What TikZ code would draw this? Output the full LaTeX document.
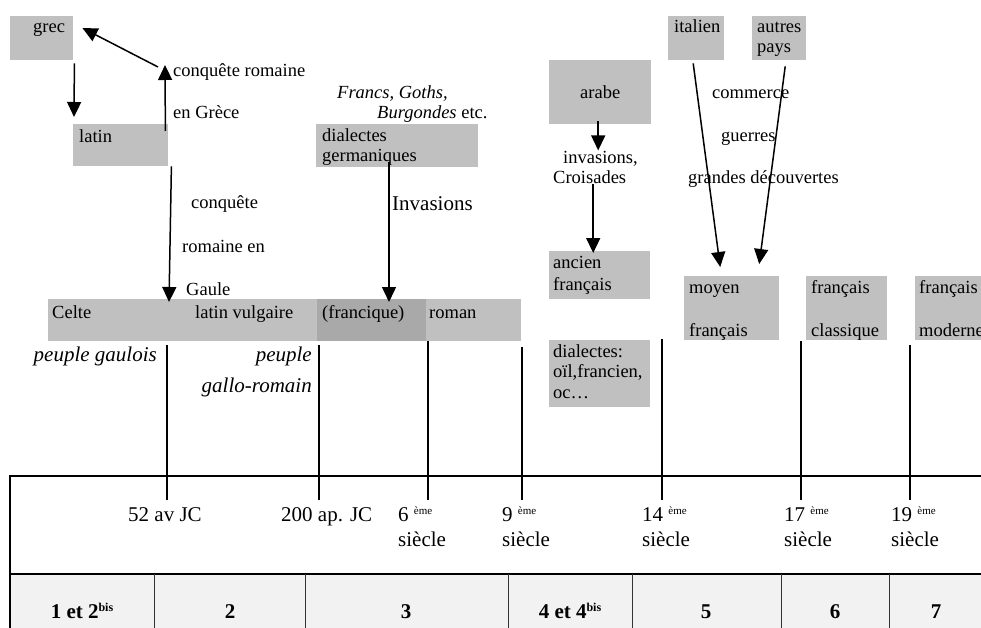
\documentclass[tikz,border=0pt]{standalone}
\usepackage{fontspec}
\setmainfont{Liberation Serif}
\usepackage{tikz}
\usetikzlibrary{arrows.meta}

\definecolor{boxgray}{HTML}{C0C0C0}
\definecolor{boxdark}{HTML}{A9A9A9}
\definecolor{rowgray}{HTML}{F2F2F2}

\newcommand{\emeup}{\raisebox{7pt}{\fontsize{11}{11}\selectfont ème}}
\newcommand{\bisup}{\raisebox{7pt}{\fontsize{12}{12}\selectfont bis}}

\begin{document}
\begin{tikzpicture}[x=1pt,y=-1pt,
  langbox/.style={rectangle,fill=boxgray,inner sep=0pt,anchor=north west},
  txt/.style={inner sep=0pt,anchor=base west,align=left,font=\fontsize{18.5}{20.5}\selectfont},
  bigtxt/.style={inner sep=0pt,anchor=base west,align=left,font=\fontsize{21}{25}\selectfont},
  coltxt/.style={inner sep=0pt,anchor=base,font=\fontsize{21}{25}\selectfont\bfseries},
  arr/.style={line width=1.5pt,-{Triangle[length=15pt,width=14pt]}},
  tick/.style={line width=1.5pt}
  ]
\useasboundingbox (0,0) rectangle (981,628);

% Table
\fill[rowgray] (10,574) rectangle (981,628);
\draw[line width=1.2pt] (10,628) -- (10,476) -- (981,476);
\draw[line width=1.2pt] (10,574) -- (981,574);
\foreach \x in {154,305,508,632,781,889}
  \draw[line width=0.8pt,black!80] (\x,574) -- (\x,628);

% Boxes
\node[langbox,minimum width=63pt,minimum height=44pt] (grec) at (10,16) {};
\node[langbox,minimum width=95pt,minimum height=42pt] (latin) at (73,124) {};
\node[langbox,minimum width=162pt,minimum height=43pt] (germ) at (316,124) {};
\node[langbox,minimum width=120pt,minimum height=42pt] (celte) at (48,299) {};
\node[langbox,minimum width=149pt,minimum height=42pt] (vulg) at (168,299) {};
\node[langbox,fill=boxdark,minimum width=109pt,minimum height=42pt] (franc) at (317,299) {};
\node[langbox,minimum width=95pt,minimum height=42pt] (roman) at (426,299) {};
\node[langbox,minimum width=102pt,minimum height=64pt] (arabe) at (549,60) {};
\node[langbox,minimum width=56pt,minimum height=44pt] (italien) at (668,16) {};
\node[langbox,minimum width=54pt,minimum height=44pt] (autres) at (752,16) {};
\node[langbox,minimum width=101pt,minimum height=48pt] (ancien) at (549,251) {};
\node[langbox,minimum width=101pt,minimum height=67pt] (dial) at (549,340) {};
\node[langbox,minimum width=95pt,minimum height=64pt] (moyen) at (684,276) {};
\node[langbox,minimum width=81pt,minimum height=64pt] (classique) at (806,276) {};
\node[langbox,minimum width=70pt,minimum height=64pt] (moderne) at (915,276) {};

% Box texts (multi-line nodes sit on their last line)
\node[txt] (tGrec) at (33,33) {grec};
\node[txt] (tLatin) at (79,143) {latin};
\node[txt] (tGerm) at (322,162) {dialectes\\germaniques};
\node[txt] (tCelte) at (52,318) {Celte};
\node[txt] (tVulg) at (195,318) {latin vulgaire};
\node[txt] (tFranc) at (322,318) {(francique)};
\node[txt] (tRoman) at (429,318) {roman};
\node[txt] (tArabe) at (580,99) {arabe};
\node[txt] (tItalien) at (674,33) {italien};
\node[txt] (tAutres) at (757,53) {autres\\pays};
\node[txt,font=\fontsize{18.5}{22}\selectfont] (tAncien) at (553,290) {ancien\\français};
\node[txt] (tDial) at (553,398) {dialectes:\\oïl,francien,\\oc…};
\node[txt,font=\fontsize{18.5}{43}\selectfont] (tMoyen) at (689,336) {moyen\\français};
\node[txt,font=\fontsize{18.5}{43}\selectfont] (tClass) at (811,336) {français\\classique};
\node[txt,font=\fontsize{18.5}{43}\selectfont] (tModerne) at (919,336) {français\\moderne};

% Free labels
\node[txt] (tCqRom) at (173,77) {conquête romaine};
\node[txt] (tGrece) at (173,119) {en Grèce};
\node[txt] (tCqA) at (191,208) {conquête};
\node[txt] (tCqB) at (182,252) {romaine en};
\node[txt] (tCqC) at (186,295) {Gaule};
\node[txt] (tFrancs) at (337,99) {\itshape Francs, Goths,};
\node[txt] (tBurg) at (377,119) {\itshape Burgondes\upshape{} etc.};
\node[bigtxt] (tInvasions) at (392,211) {Invasions};
\node[bigtxt,anchor=base east,font=\fontsize{21}{25}\selectfont\itshape] (tGaulois) at (157,361) {peuple gaulois};
\node[bigtxt,anchor=base east,align=right,font=\fontsize{21}{31}\selectfont\itshape] (tGallo) at (312,392) {peuple\\gallo-romain};
\node[txt] (tInv) at (553,184) {\hspace*{10pt}invasions,\\Croisades};
\node[txt] (tCommerce) at (712,99) {commerce};
\node[txt] (tGuerres) at (721,142) {guerres};
\node[txt] (tDecouv) at (688,184) {grandes découvertes};

% Arrows
\coordinate (cqUp) at (165,65);
\draw[arr] ([xshift=1pt,yshift=-3pt]grec.south east) -- ([xshift=1pt,yshift=7pt]latin.north west);
\draw[arr] ([xshift=-3pt,yshift=-7pt]latin.north east) -- (cqUp);
\draw[arr] ([xshift=-7pt,yshift=-2pt]cqUp) -- ([xshift=9pt,yshift=-12pt]grec.north east);
\draw[arr] ([xshift=3pt]latin.south east) -- ([xshift=1pt,yshift=-3pt]vulg.north west);
\draw[arr] ([xshift=73pt,yshift=5pt]germ.south west) -- ([xshift=72pt,yshift=-3pt]franc.north west);
\draw[arr] ([xshift=-2pt,yshift=3pt]arabe.south) -- ([xshift=-2pt,yshift=-26pt]arabe.south);
\draw[arr] ([xshift=-6.5pt]ancien.north |- tInv.south) -- ([xshift=-6.5pt,yshift=-2pt]ancien.north);
\draw[arr] ([xshift=-3pt,yshift=-3pt]italien.south) -- ([xshift=-11.5pt,yshift=9pt]moyen.north);
\draw[arr] ([xshift=6pt,yshift=-6pt]autres.south) -- ([xshift=27.5pt,yshift=12pt]moyen.north);

% Time ticks
\foreach \x/\yt [count=\i] in {167/345,319/345,428/341,522/347,662/339,801/341,910/345} {
  \coordinate (tt\i) at (\x,\yt);
  \coordinate (tb\i) at (\x,500);
  \draw[tick] (tt\i) -- (tb\i);
}

% Dates
\node[bigtxt] (d1) at (128,521) {52 av JC};
\node[bigtxt] (d2) at (281,521) {200 ap. JC};
\node[bigtxt] (d3) at (398,546) {6 \emeup\\siècle};
\node[bigtxt] (d4) at (502,546) {9 \emeup\\siècle};
\node[bigtxt] (d5) at (642,546) {14 \emeup\\siècle};
\node[bigtxt] (d6) at (784,546) {17 \emeup\\siècle};
\node[bigtxt] (d7) at (891,546) {19 \emeup\\siècle};

% Periods
\node[coltxt] (c1) at (82,618) {1 et 2\bisup};
\node[coltxt] (c2) at (230,618) {2};
\node[coltxt] (c3) at (406,618) {3};
\node[coltxt] (c4) at (570,618) {4 et 4\bisup};
\node[coltxt] (c5) at (706,618) {5};
\node[coltxt] (c6) at (835,618) {6};
\node[coltxt] (c7) at (936,618) {7};

\end{tikzpicture}
\end{document}
